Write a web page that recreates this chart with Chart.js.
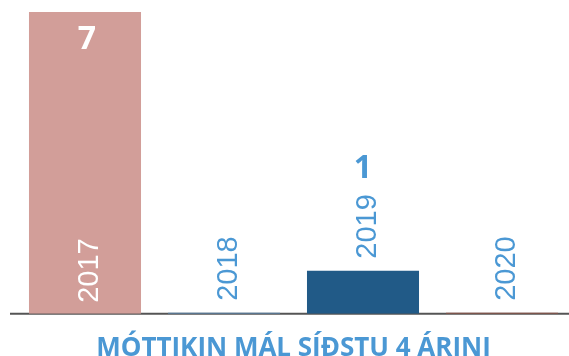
<!DOCTYPE html>
<html>
<head>
<meta charset="utf-8">
<script src="https://cdn.jsdelivr.net/npm/chart.js@4"></script>
<style>
  html, body { margin: 0; padding: 0; background: #ffffff; overflow: hidden; width: 569px; height: 356px; }
  #wrap { position: absolute; left: 0; top: 0; width: 572px; height: 356px; }
</style>
</head>
<body>
<div id="wrap"><canvas id="chart" width="572" height="356"></canvas></div>
<script>
// Cases received per year
const years = ['2017', '2018', '2019', '2020'];
const cases = [7, 0, 1, 0];
const barColors = ['#d29e99', '#5d8fbd', '#215a87', '#9a5547'];
const titleText = 'MÓTTIKIN MÁL SÍÐSTU 4 ÁRINI';

const LABEL_BLUE = '#4b98d4';

// Baseline under the bars, drawn across the full width
const baselinePlugin = {
  id: 'baseline',
  beforeDatasetsDraw(chart) {
    const { ctx } = chart;
    const y = chart.scales.y.getPixelForValue(0);
    ctx.save();
    ctx.strokeStyle = '#555555';
    ctx.lineWidth = 2;
    ctx.beginPath();
    ctx.moveTo(10, y);
    ctx.lineTo(chart.width, y);
    ctx.stroke();
    ctx.restore();
  }
};

// Year labels (rotated) and value labels for each bar
const barLabelsPlugin = {
  id: 'barLabels',
  afterDatasetsDraw(chart) {
    const { ctx } = chart;
    const meta = chart.getDatasetMeta(0);
    ctx.save();
    meta.data.forEach((el, i) => {
      const { x, y, base } = el.getProps(['x', 'y', 'base'], true);
      const v = cases[i];
      const barH = base - y;
      ctx.font = '29px "Liberation Sans", Arial, sans-serif';
      const len = ctx.measureText(years[i]).width;
      const inside = barH > len + 80;
      const start = inside ? base - 11 : Math.min(base - 11, y - 12);
      const color = inside ? '#ffffff' : LABEL_BLUE;

      // year label, reading bottom to top
      ctx.save();
      ctx.translate(x + 13, start);
      ctx.rotate(-Math.PI / 2);
      ctx.fillStyle = color;
      ctx.textAlign = 'left';
      ctx.textBaseline = 'alphabetic';
      ctx.fillText(years[i], 0, 0);
      ctx.restore();

      // value label
      if (v > 0) {
        ctx.font = 'bold 32px "Open Sans", sans-serif';
        ctx.fillStyle = color;
        ctx.textAlign = 'center';
        ctx.textBaseline = 'alphabetic';
        if (inside) {
          ctx.fillText(String(v), x + 2, y + 37);
        } else {
          ctx.fillText(String(v), x, start - len - 16);
        }
      }
    });
    ctx.restore();
  }
};

new Chart(document.getElementById('chart'), {
  type: 'bar',
  data: {
    labels: years,
    datasets: [{
      data: cases,
      backgroundColor: barColors,
      borderWidth: 0,
      categoryPercentage: 1,
      barPercentage: 0.806,
      minBarLength: 1
    }]
  },
  options: {
    responsive: false,
    animation: false,
    layout: { padding: { top: 12, left: 15.5, right: 0.5, bottom: 0 } },
    scales: {
      x: { display: false },
      y: { display: false, min: 0, max: 7 }
    },
    plugins: {
      legend: { display: false },
      tooltip: { enabled: false },
      title: {
        display: true,
        position: 'bottom',
        text: titleText,
        color: LABEL_BLUE,
        font: { family: '"Open Sans", sans-serif', size: 26, weight: 'bold', lineHeight: 1.2 },
        padding: { top: 19, bottom: -8 }
      }
    }
  },
  plugins: [baselinePlugin, barLabelsPlugin]
});
</script>
</body>
</html>
